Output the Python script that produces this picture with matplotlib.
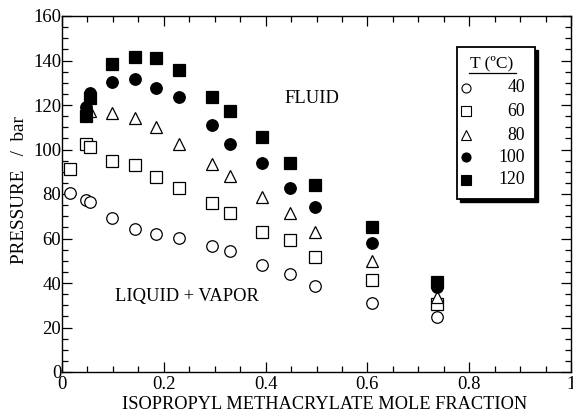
import matplotlib
matplotlib.use("Agg")
import matplotlib.pyplot as plt
from matplotlib.patches import Rectangle
from matplotlib.ticker import MultipleLocator

plt.rcParams['font.family'] = ['Liberation Serif', 'DejaVu Serif']

# ---- data ----
x_40 = [0.016, 0.047, 0.055, 0.098, 0.144, 0.185, 0.229, 0.294, 0.331, 0.392, 0.447, 0.498, 0.61, 0.737]
p_40 = [80.4, 77.3, 76.2, 69.2, 64.3, 62.0, 60.2, 56.8, 54.4, 48.1, 44.0, 38.6, 31.1, 24.9]
x_60 = [0.016, 0.047, 0.055, 0.098, 0.144, 0.185, 0.229, 0.294, 0.331, 0.392, 0.447, 0.498, 0.61, 0.737]
p_60 = [91.1, 102.3, 101.3, 95.0, 93.0, 87.8, 82.6, 75.8, 71.3, 63.1, 59.3, 51.5, 41.3, 30.4]
x_80 = [0.047, 0.055, 0.098, 0.144, 0.185, 0.229, 0.294, 0.331, 0.392, 0.447, 0.498, 0.61, 0.737]
p_80 = [116.0, 117.5, 116.5, 114.0, 110.0, 102.5, 93.5, 88.0, 78.8, 71.5, 63.1, 50.0, 33.8]
x_100 = [0.047, 0.055, 0.098, 0.144, 0.185, 0.229, 0.294, 0.331, 0.392, 0.447, 0.498, 0.61, 0.737]
p_100 = [119.0, 125.5, 130.5, 131.7, 127.5, 123.5, 111.0, 102.5, 93.8, 82.8, 74.3, 58.1, 38.0]
x_120 = [0.047, 0.055, 0.098, 0.144, 0.185, 0.229, 0.294, 0.331, 0.392, 0.447, 0.498, 0.61, 0.737]
p_120 = [115.0, 123.0, 138.4, 141.6, 141.1, 135.7, 123.6, 117.3, 105.6, 93.9, 84.0, 65.3, 40.6]

temps = ["40", "60", "80", "100", "120"]
xs = [x_40, x_60, x_80, x_100, x_120]
ps = [p_40, p_60, p_80, p_100, p_120]
markers = ['o', 's', '^', 'o', 's']
fills = ['white', 'white', 'white', 'black', 'black']
sizes = [8.3, 8.3, 9.3, 8.3, 8.3]

fig = plt.figure(figsize=(5.73, 4.17), dpi=100)
ax = fig.add_axes([62/573, 45/417, (571-62)/573, (372-16)/417])

for x, p, m, f, s in zip(xs, ps, markers, fills, sizes):
    ax.plot(x, p, linestyle='none', marker=m, markersize=s,
            markerfacecolor=f, markeredgecolor='black', markeredgewidth=0.9)

ax.set_xlim(0, 1)
ax.set_ylim(0, 160)
ax.xaxis.set_major_locator(MultipleLocator(0.2))
ax.xaxis.set_minor_locator(MultipleLocator(0.05))
ax.yaxis.set_major_locator(MultipleLocator(20))
ax.yaxis.set_minor_locator(MultipleLocator(5))
ax.set_xticks([0, 0.2, 0.4, 0.6, 0.8, 1.0])
ax.set_xticklabels(['0', '0.2', '0.4', '0.6', '0.8', '1'])
ax.tick_params(which='both', direction='in', top=True, right=True, labelsize=13.5, width=0.9)
ax.tick_params(which='major', length=7)
ax.tick_params(which='minor', length=4)
ax.tick_params(axis='x', which='major', pad=3)
ax.tick_params(axis='y', which='major', pad=0.5)
for sp in ax.spines.values():
    sp.set_linewidth(1.0)

ax.set_xlabel('ISOPROPYL METHACRYLATE MOLE FRACTION', fontsize=13.2)
ax.xaxis.set_label_coords((325-62)/509, -(396-372)/356)
ax.set_ylabel('PRESSURE   /  bar', fontsize=13.8)
ax.yaxis.set_label_coords(-(62-28)/509, (372-190)/356)

ax.text(0.49, 123, 'FLUID', fontsize=13.3, ha='center', va='center')
ax.text(0.245, 34, 'LIQUID + VAPOR', fontsize=13.3, ha='center', va='center')

# ---- legend (manual) ----
lx0, lx1, ly0, ly1 = 0.776, 0.929, 0.486, 0.913
tr = ax.transAxes
dx, dy = 3/509, 3/356
ax.add_patch(Rectangle((lx0+dx, ly0-dy), lx1-lx0, ly1-ly0, transform=tr,
                       facecolor='black', edgecolor='black', zorder=5, clip_on=False))
ax.add_patch(Rectangle((lx0, ly0), lx1-lx0, ly1-ly0, transform=tr,
                       facecolor='white', edgecolor='black', linewidth=1.3, zorder=6, clip_on=False))
tx = (492-62)/509
ax.text(tx, (372-63)/356, 'T (ºC)', transform=tr, fontsize=12.5, ha='center', va='center', zorder=7)
ax.plot([(469-62)/509, (516-62)/509], [(372-73)/356]*2, transform=tr, color='black',
        linewidth=0.9, zorder=7, clip_on=False)
row_y = [88, 111, 135, 157, 180]
mx = (466-62)/509
nx = (525-62)/509
for t, m, f, ry in zip(temps, markers, fills, row_y):
    yy = (372-ry)/356
    ax.plot([mx], [yy], transform=tr, marker=m, markersize=6.5 if m != '^' else 7.5,
            markerfacecolor=f, markeredgecolor='black', markeredgewidth=0.8,
            linestyle='none', zorder=7, clip_on=False)
    ax.text(nx, yy, t, transform=tr, fontsize=12.8, ha='right', va='center', zorder=7)

fig.savefig('out.png', dpi=100)
